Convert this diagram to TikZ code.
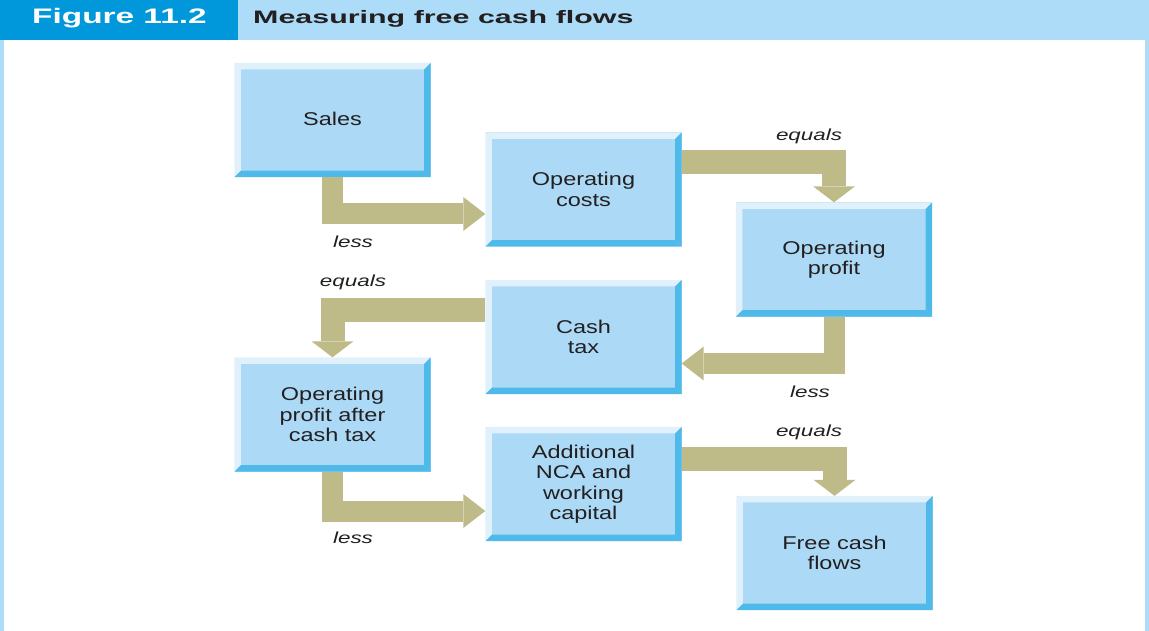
\documentclass[tikz,border=0pt]{standalone}
\usepackage{fontspec}
\setmainfont{Liberation Sans}
\newfontfamily\boxfont{Liberation Sans}[FakeStretch=1.27]
\newfontfamily\labfont{Liberation Sans}[FakeStretch=1.4]
\newfontfamily\figfont{Liberation Sans}[FakeStretch=1.59]
\newfontfamily\titfont{Liberation Sans}[FakeStretch=1.69]
\usetikzlibrary{arrows.meta,calc}
\definecolor{hdrlight}{RGB}{172,220,247}
\definecolor{hdrdark}{RGB}{0,152,218}
\definecolor{face}{RGB}{172,218,246}
\definecolor{bevlight}{RGB}{224,241,252}
\definecolor{bevdark}{RGB}{79,185,234}
\definecolor{arrowc}{RGB}{190,187,137}
\definecolor{ink}{RGB}{35,31,32}
\newcommand\bevbox[4]{%
  \node[flowbox] (#1) at (#2,#3) {#4};
  \fill[bevlight] (#1.north west) -- (#1.north east) -- ($(#1.north east)+(-6.5,6.5)$) -- ($(#1.north west)+(6.5,6.5)$) -- cycle;
  \fill[bevlight] (#1.north west) -- (#1.south west) -- ($(#1.south west)+(6.5,-6.5)$) -- ($(#1.north west)+(6.5,6.5)$) -- cycle;
  \fill[bevdark] (#1.north east) -- (#1.south east) -- ($(#1.south east)+(-6.5,-6.5)$) -- ($(#1.north east)+(-6.5,6.5)$) -- cycle;
  \fill[bevdark] (#1.south west) -- (#1.south east) -- ($(#1.south east)+(-6.5,-6.5)$) -- ($(#1.south west)+(6.5,-6.5)$) -- cycle;
}
\begin{document}
\begin{tikzpicture}[x=1pt,y=-1pt,
  flowbox/.style={minimum width=196pt,minimum height=114pt,inner sep=0pt,fill=face,text=ink,align=center,font=\boxfont\fontsize{18.5}{20.5}\selectfont},
  lab/.style={anchor=base,inner sep=0pt,text=ink,font=\labfont\itshape\fontsize{16}{18}\selectfont},
  fatH/.style={draw=arrowc,line width=21pt,line join=miter,-{Triangle[length=22pt,width=34pt,line width=0pt]}},
  fatV/.style={draw=arrowc,line width=24pt,line join=miter,-{Triangle[length=16pt,width=42pt,line width=0pt]}},
]
\useasboundingbox (0,0) rectangle (1149,631);
\fill[white] (0,0) rectangle (1149,631);
\fill[hdrlight] (0,0) rectangle (1149,40);
\fill[hdrdark] (0,0) rectangle (238,40);
\fill[hdrlight] (0,40) rectangle (4,631);
\fill[hdrlight] (1145,40) rectangle (1149,631);
\node[anchor=base west,inner sep=0pt,text=white,font=\figfont\bfseries\fontsize{21}{24}\selectfont] (fig) at (32,24) {Figure 11.2};
\node[anchor=base west,inner sep=0pt,text=ink,font=\titfont\bfseries\fontsize{18}{22}\selectfont] (title) at (253,24) {Measuring free cash flows};

\bevbox{sales}{332.5}{120}{\raisebox{3pt}{Sales}}
\bevbox{costs}{583.5}{189.5}{Operating\\costs}
\bevbox{profit}{834}{259.5}{Operating\\profit}
\bevbox{cashtax}{583.5}{337}{Cash\\tax}
\bevbox{opact}{332.5}{414.5}{Operating\\profit after\\cash tax}
\bevbox{add}{583.5}{484}{Additional\\NCA and\\working\\capital}
\bevbox{fcf}{834.5}{553}{Free cash\\flows}

\draw[fatH] (sales.south) |- ($(costs.west)+(0,24.5)$);
\draw[fatV] ($(costs.east)+(0,-27)$) -| (profit.north);
\draw[fatH] (profit.south) |- ($(cashtax.east)+(0,26.5)$);
\draw[fatV] ($(cashtax.west)+(0,-27)$) -| (opact.north);
\draw[fatH] (opact.south) |- ($(add.west)+(0,27)$);
\draw[fatV] ($(add.east)+(0,-25.5)$) -| (fcf.north);

\node[lab] (l1) at (353,248) {less};
\node[lab] (e2) at (809,141) {equals};
\node[lab] (l3) at (810,397) {less};
\node[lab] (e4) at (353,287) {equals};
\node[lab] (l5) at (353,543) {less};
\node[lab] (e6) at (809,436) {equals};
\end{tikzpicture}
\end{document}
